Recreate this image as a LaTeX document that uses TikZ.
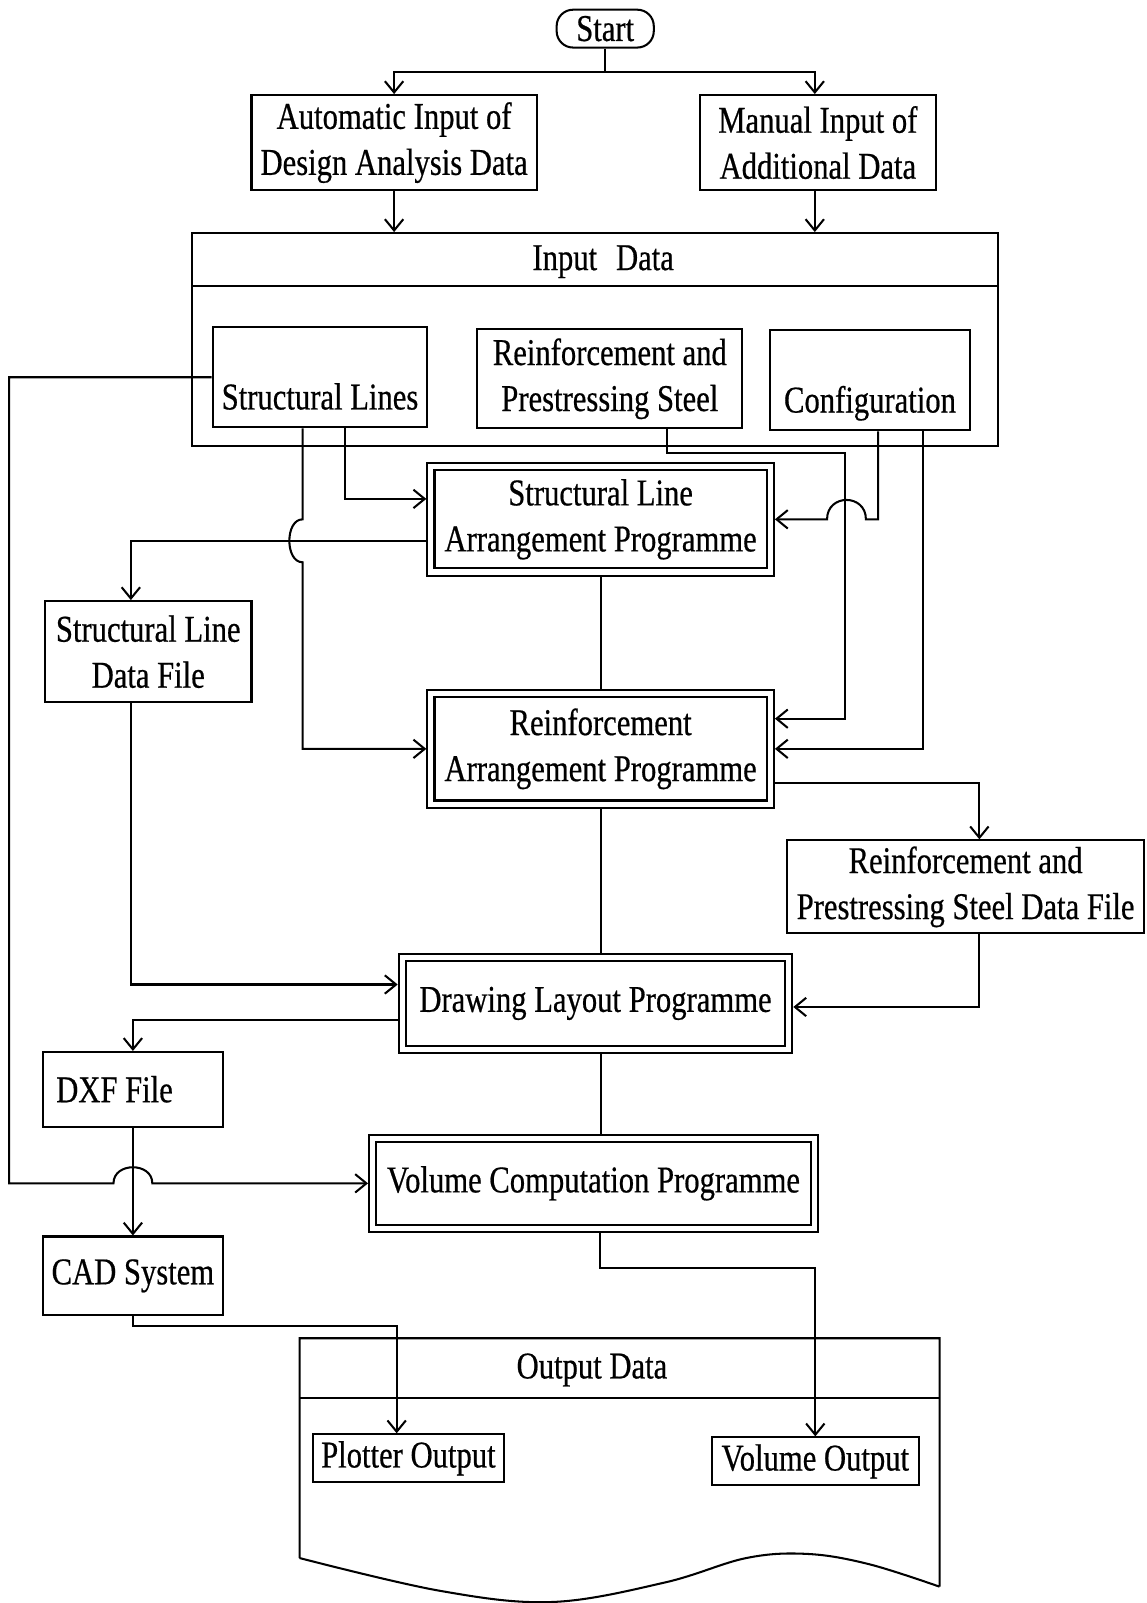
\documentclass[tikz,border=0pt]{standalone}
\usepackage{fontspec}
\setmainfont{Liberation Serif}[FakeStretch=0.81, FakeBold=0.5]
\usetikzlibrary{arrows.meta,calc}

\begin{document}
\begin{tikzpicture}[x=0.5pt,y=-0.5pt,
  every node/.style={font=\fontsize{18.5}{22.5}\selectfont},
  wh/.style 2 args={minimum width=#1*0.5pt, minimum height=#2*0.5pt},
  box/.style={draw, line width=1pt, rectangle, inner sep=0pt, align=center},
  dbox/.style={box, double, double distance=2.5pt, outer sep=2.25pt},
  ln/.style={line width=1pt},
  arr/.style={ln, -{Straight Barb[length=5.5pt,width=9pt]}}]

% page
\fill[white] (0,0) rectangle (1121,1568);
\useasboundingbox (0,0) rectangle (1121,1568);

% ---------- boxes ----------
\node[box, rounded corners=8pt, wh={95}{37}] (start) at (592,28) {Start};
\node[box, wh={279}{93}] (auto) at (385.5,139.5) {Automatic Input of\\Design Analysis Data};
\node[box, wh={231}{93}] (manual) at (800,139.5) {Manual Input of\\Additional Data};

\node[box, wh={788}{208}] (input) at (582,332) {};
\node (inputtitle) at (590,256) {Input\hspace{0.5em}Data};
\draw[ln] ($(input.north west)+(0,53)$) -- ($(input.north east)+(0,53)$);

\node[box, wh={210}{98}] (sl) at (313,369) {\strut\\\strut Structural Lines};
\node[box, wh={259}{97}] (rps) at (596.5,370.5) {Reinforcement and\\Prestressing Steel};
\node[box, wh={196}{98}] (cfg) at (851,372) {\strut\\\strut Configuration};

\node[dbox, wh={332}{103}] (slap) at (587.5,508) {Structural Line\\Arrangement Programme};
\node[dbox, wh={332}{108}] (rap) at (587.5,732.5) {Reinforcement\\Arrangement Programme};
\node[box, wh={202}{99}] (sldf) at (145,637.5) {Structural Line\\Data File};
\node[box, wh={349}{91}] (rpsdf) at (944.5,867.5) {Reinforcement and\\Prestressing Steel Data File};
\node[dbox, wh={378}{90}] (dlp) at (582.5,981.5) {Drawing Layout Programme};
\node[box, wh={176}{73}] (dxf) at (130,1065.5) {\makebox[75pt][l]{DXF File}};
\node[dbox, wh={432}{88}] (vcp) at (580.5,1157.5) {Volume Computation Programme};
\node[box, wh={176}{77}] (cad) at (130,1248) {CAD System};

% output document
\draw[ln] (919,1552) -- (919,1309) -- (293,1309) -- (293,1524)
  plot[smooth, tension=0.6] coordinates {(293,1524) (430,1556) (540,1567) (650,1548) (730,1524) (790,1520) (850,1530) (919,1552)};
\draw[ln] (293,1367) -- (919,1367);
\node (outtitle) at (579,1340) {Output Data};
\node[box, wh={187}{47}] (plot) at (399.5,1426.5) {Plotter Output};
\node[box, wh={203}{47}] (vol) at (797.5,1429.5) {Volume Output};

% ---------- connectors ----------
\coordinate (split) at (592,70);
\draw[ln] (start.south) -- (split);
\draw[arr] (split) -| (auto.north);
\draw[arr] (split) -| ($(manual.north)+(-3,0)$);
\draw[arr] (auto.south) -- (auto.south |- input.north);
\draw[arr] ($(manual.south)+(-3,0)$) coordinate (m1) -- (m1 |- input.north);

% structural lines
\draw[arr] ($(sl.south)+(24,0)$) |- ($(slap.west)+(0,-20)$);
\draw[arr] ($(sl.south)+(-17,0)$) coordinate (s1) -- (s1 |- slap.west)
  .. controls +(-17.3,0) and +(-17.3,0) .. ++(0,42) -- (s1 |- rap.west) -- (rap.west);
\draw[arr] ($(slap.west)+(0,21)$) -| ($(sldf.north)+(-17,0)$);

% reinforcement and prestressing steel
\coordinate (k1) at (827,443);
\draw[arr] ($(rps.south)+(55.5,0)$) |- (k1) |- ($(rap.east)+(0,-29.5)$);

% configuration
\draw[arr] ($(cfg.south)+(8,0)$) |- ($(slap.east)+(89,0)$)
  .. controls +(0,-25.3) and +(0,-25.3) .. ++(-38,0) -- (slap.east);
\draw[arr] ($(cfg.south)+(52,0)$) |- (rap.east);

% programme chain
\draw[ln] (slap.south) -- (rap.north);
\draw[arr] ($(rap.east)+(0,33)$) -| ($(rpsdf.north)+(13.5,0)$);
\draw[ln] (rap.south) -- (rap.south |- dlp.north);
\draw[arr] ($(rpsdf.south)+(13.5,0)$) |- ($(dlp.east)+(0,3.5)$);
\draw[arr] ($(sldf.south)+(-17,0)$) |- ($(dlp.west)+(0,-18.5)$);
\draw[arr] ($(dlp.west)+(0,16.5)$) -| (dxf.north);
\draw[ln] (dlp.south -| rap.south) -- (vcp.north -| rap.south);

% structural lines to volume computation
\coordinate (k2) at (9,1157.5);
\draw[arr] (sl.west) -| (k2) -- ($(vcp.west -| dxf.south)+(-19,0)$)
  .. controls +(0,-21) and +(0,-21) .. ++(38,0) -- (vcp.west);

% outputs
\draw[arr] (dxf.south) -- (dxf.south |- cad.north);
\draw[arr] (cad.south) |- ($(plot.north)+(-11.5,-105)$) -- ($(plot.north)+(-11.5,0)$);
\draw[arr] ($(vcp.south)+(6,0)$) |- ($(vol.north)+(0,-165)$) -- (vol.north);

\end{tikzpicture}
\end{document}
